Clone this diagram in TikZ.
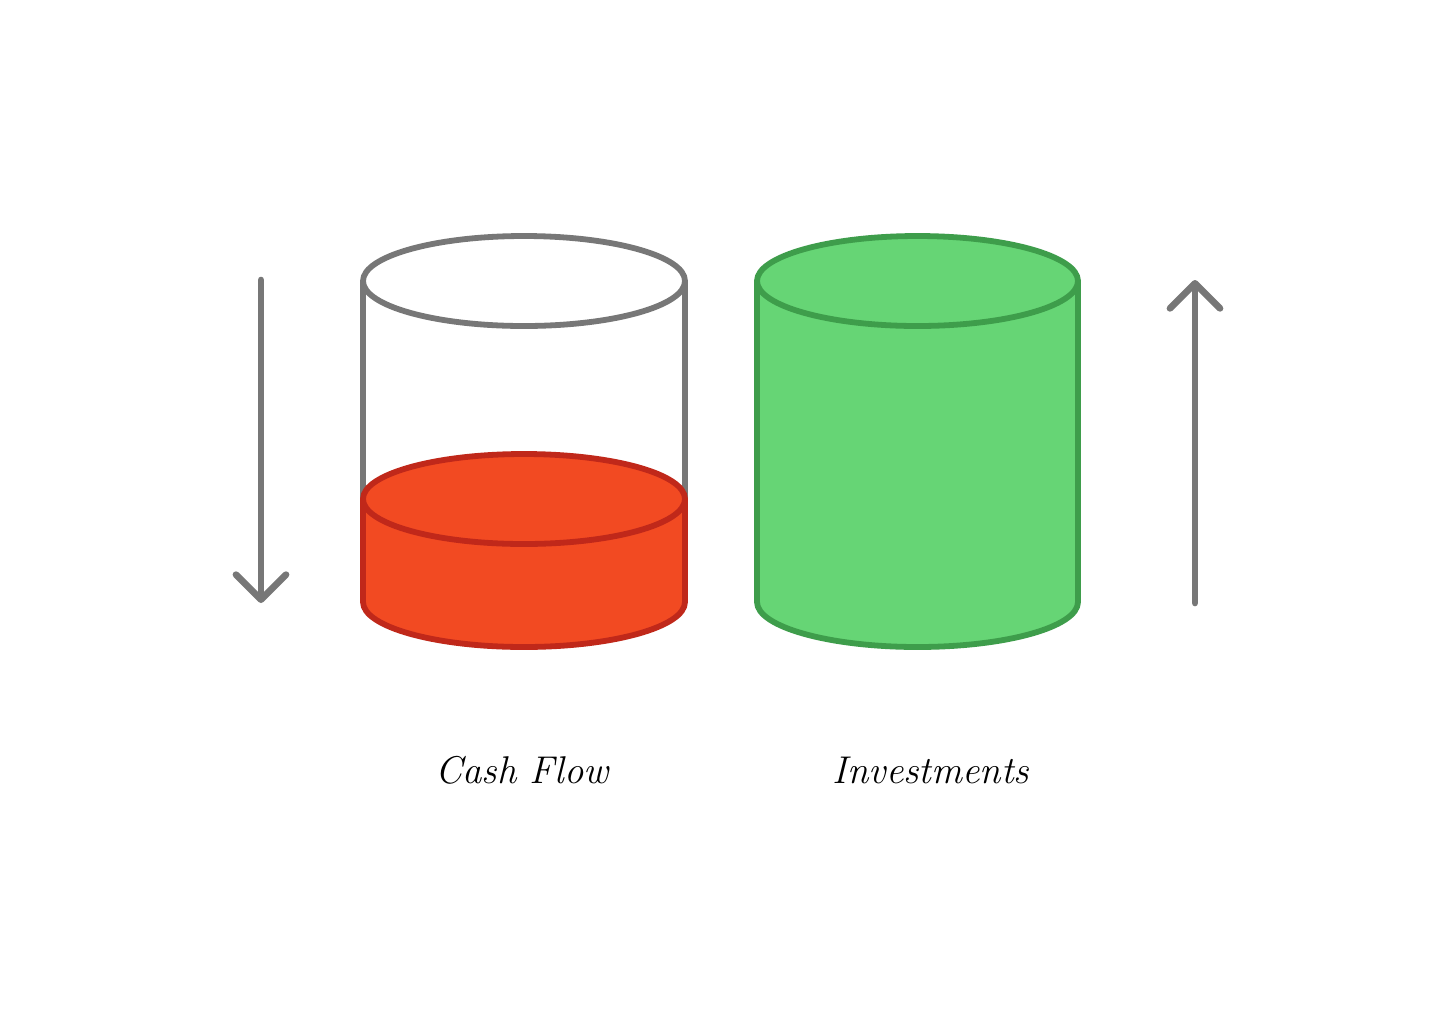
\documentclass[tikz,border=0pt]{standalone}
\usepackage{tikz}
\usetikzlibrary{arrows.meta}
\definecolor{glassgray}{HTML}{777777}
\definecolor{cashfill}{HTML}{F24A22}
\definecolor{cashline}{HTML}{C0281A}
\definecolor{investfill}{HTML}{66D575}
\definecolor{investline}{HTML}{3E9D4B}
\tikzset{
  glass/.style={draw=glassgray,line width=1.65pt},
  liquidcash/.style={draw=cashline,fill=cashfill,line width=1.65pt,line join=round},
  liquidinvest/.style={draw=investline,fill=investfill,line width=1.65pt,line join=round},
  trend/.style={draw=glassgray,line width=1.9pt,line cap=round,
    -{Straight Barb[length=0.25cm,width=0.5cm,round]}},
  tag/.style={font=\fontsize{11}{13}\selectfont\itshape,text=black}
}
% body of a tank: left x, right x, top y, bottom y, ry
\newcommand{\tankbody}[6]{%
  \path[#1] (#2,#4) -- (#2,#5)
    arc[start angle=180,end angle=0,x radius={(#3-#2)/2},y radius=#6]
    -- (#3,#4) -- cycle;%
}

\begin{document}
\begin{tikzpicture}[x=0.01cm,y=-0.01cm]
  \useasboundingbox[fill=white] (0,0) rectangle (1456,1017);

  % cash flow glass
  \draw[glass] (363,281) -- (363,499);
  \draw[glass] (685,281) -- (685,499);
  \tankbody{liquidcash}{363}{685}{499}{602}{45}
  \path[liquidcash] (524,499) ellipse[x radius=161,y radius=45];
  \path[glass,fill=white] (524,281) ellipse[x radius=161,y radius=45];

  % investments glass
  \tankbody{liquidinvest}{757}{1078}{281}{602}{45}
  \path[liquidinvest] (917.5,281) ellipse[x radius=160.5,y radius=45];

  % trend arrows
  \coordinate (downtop) at (261,280);
  \coordinate (downbot) at (261,603);
  \coordinate (uptop) at (1195,280);
  \coordinate (upbot) at (1195,603);
  \draw[trend] (downtop) -- (downbot);
  \draw[trend] (upbot) -- (uptop);

  % labels
  \node[tag] (cashlabel) at (522,770) {Cash Flow};
  \node[tag] (investlabel) at (931,770) {Investments};
\end{tikzpicture}
\end{document}
